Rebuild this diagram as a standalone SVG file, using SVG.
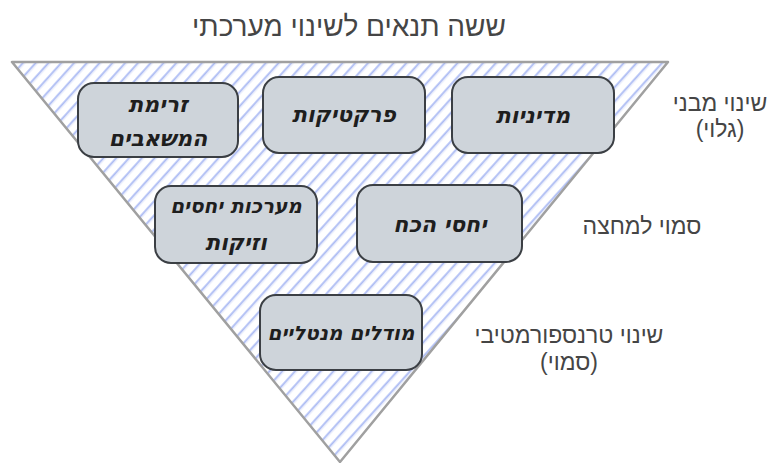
<svg xmlns="http://www.w3.org/2000/svg" width="773" height="463" viewBox="0 0 773 463">
<style>
.title{font-family:"Liberation Sans","DejaVu Sans",sans-serif;font-size:28px;fill:#454545;text-anchor:middle}
.lbl{font-family:"Liberation Sans","DejaVu Sans",sans-serif;font-size:23px;fill:#454545;text-anchor:middle}
.box{fill:#ced4da;stroke:#3b3f44;stroke-width:2}
.bt{font-family:"DejaVu Sans","Liberation Sans",sans-serif;font-size:22px;font-style:italic;font-weight:bold;fill:#1e1e1e;text-anchor:middle}
.sm{font-size:20px}
</style>
<defs>
<pattern id="hatch" patternUnits="userSpaceOnUse" width="9.5" height="9.5" patternTransform="rotate(42)">
<line x1="2" y1="0" x2="2" y2="9.5" stroke="#6783e8" stroke-width="1.2" stroke-opacity="0.75"/>
<line x1="3.6" y1="0" x2="3.6" y2="9.5" stroke="#9fb1ef" stroke-width="0.8" stroke-opacity="0.5"/>
</pattern>
</defs>
<rect width="773" height="463" fill="#ffffff"/>
<text class="title" x="349" y="36">ששה תנאים לשינוי מערכתי</text>
<g id="triangle">
<path d="M12,62 L668,62 L340,462 Z" fill="url(#hatch)"/>
<path d="M12,62 L668,62 L340,462 Z" fill="none" stroke="#a0a0a0" stroke-width="2.5" stroke-linejoin="round"/>
</g>
<g id="connectors"></g>
<g id="node-flows">
<rect class="box" x="78" y="83" width="160" height="74" rx="16"/>
<text class="bt" x="158" y="112">זרימת</text>
<text class="bt" x="158" y="146">המשאבים</text>
</g>
<g id="node-practices">
<rect class="box" x="263" y="77" width="162" height="76" rx="16"/>
<text class="bt" x="344" y="122">פרקטיקות</text>
</g>
<g id="node-policies">
<rect class="box" x="452" y="77" width="162" height="76" rx="16"/>
<text class="bt" x="533" y="123">מדיניות</text>
</g>
<g id="node-relationships">
<rect class="box" x="155" y="186" width="162" height="77" rx="16"/>
<text class="bt sm" x="236" y="213">מערכות יחסים</text>
<text class="bt" x="236" y="250">וזיקות</text>
</g>
<g id="node-power">
<rect class="box" x="357" y="185" width="165" height="77" rx="16"/>
<text class="bt" x="440" y="232">יחסי הכח</text>
</g>
<g id="node-mental">
<rect class="box" x="260" y="295" width="162" height="75" rx="16"/>
<text class="bt sm" x="341" y="340">מודלים מנטליים</text>
</g>
<g id="labels">
<text class="lbl" x="720" y="111">שינוי מבני</text>
<text class="lbl" x="720" y="137">(גלוי)</text>
<text class="lbl" x="642" y="234">סמוי למחצה</text>
<text class="lbl" x="569" y="343">שינוי טרנספורמטיבי</text>
<text class="lbl" x="569" y="370">(סמוי)</text>
</g>
</svg>
